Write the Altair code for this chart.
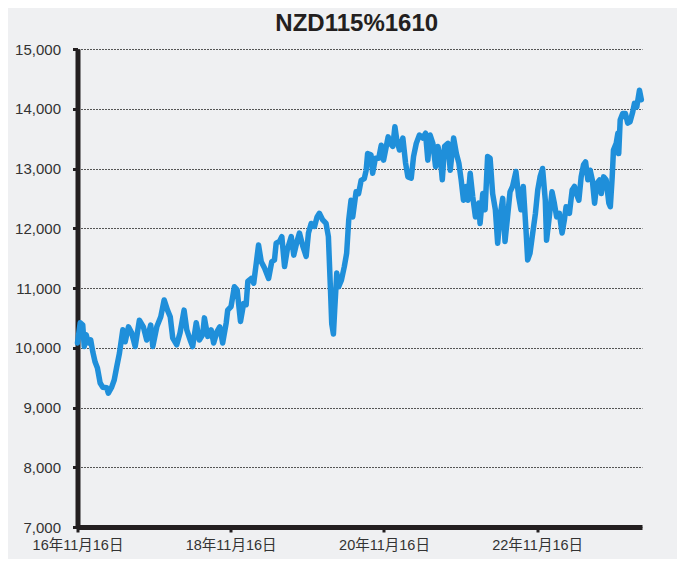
import altair as alt
import pandas as pd

dates = [
    "2016-11-16", "2016-11-29", "2016-12-11", "2016-12-18", "2016-12-27", "2017-01-07",
    "2017-01-18", "2017-01-28", "2017-02-08", "2017-02-19", "2017-03-04", "2017-03-16",
    "2017-04-04", "2017-04-12", "2017-04-28", "2017-05-10", "2017-05-22", "2017-06-04",
    "2017-06-20", "2017-07-01", "2017-07-17", "2017-08-01", "2017-08-18", "2017-09-07",
    "2017-09-26", "2017-10-12", "2017-10-31", "2017-11-10", "2017-11-29", "2017-12-18",
    "2018-01-03", "2018-01-19", "2018-02-01", "2018-02-13", "2018-03-04", "2018-03-20",
    "2018-04-08", "2018-04-21", "2018-05-07", "2018-05-19", "2018-06-05", "2018-06-20",
    "2018-07-06", "2018-07-14", "2018-07-30", "2018-08-15", "2018-08-27", "2018-09-12",
    "2018-09-25", "2018-10-09", "2018-10-26", "2018-11-02", "2018-11-18", "2018-12-04",
    "2018-12-17", "2019-01-02", "2019-01-17", "2019-01-29", "2019-02-06", "2019-02-22",
    "2019-03-06", "2019-03-18", "2019-03-29", "2019-04-11", "2019-04-27", "2019-05-16",
    "2019-05-31", "2019-06-13", "2019-06-21", "2019-07-07", "2019-07-18", "2019-07-31",
    "2019-08-13", "2019-09-01", "2019-09-13", "2019-09-30", "2019-10-10", "2019-10-26",
    "2019-11-11", "2019-11-22", "2019-12-05", "2019-12-21", "2020-01-02", "2020-01-13",
    "2020-01-29", "2020-02-14", "2020-02-25", "2020-03-06", "2020-03-12", "2020-03-20",
    "2020-03-26", "2020-04-05", "2020-04-14", "2020-04-27", "2020-05-11", "2020-05-22",
    "2020-06-01", "2020-06-12", "2020-06-20", "2020-07-06", "2020-07-18", "2020-07-30",
    "2020-08-14", "2020-08-23", "2020-08-30", "2020-09-15", "2020-09-23", "2020-10-06",
    "2020-10-22", "2020-11-03", "2020-11-14", "2020-11-27", "2020-12-06", "2020-12-16",
    "2020-12-28", "2021-01-07", "2021-01-16", "2021-01-29", "2021-02-14", "2021-02-27",
    "2021-03-10", "2021-03-26", "2021-04-06", "2021-04-19", "2021-05-04", "2021-05-20",
    "2021-06-02", "2021-06-13", "2021-06-24", "2021-07-07", "2021-07-20", "2021-07-31",
    "2021-08-11", "2021-08-21", "2021-09-01", "2021-09-17", "2021-09-28", "2021-10-14",
    "2021-10-27", "2021-11-08", "2021-11-19", "2021-11-30", "2021-12-13", "2021-12-21",
    "2022-01-01", "2022-01-13", "2022-01-26", "2022-02-11", "2022-02-17", "2022-03-02",
    "2022-03-13", "2022-03-25", "2022-04-06", "2022-04-18", "2022-05-01", "2022-05-12",
    "2022-05-23", "2022-06-05", "2022-06-16", "2022-06-28", "2022-07-10", "2022-07-22",
    "2022-08-07", "2022-08-20", "2022-08-31", "2022-09-11", "2022-09-24", "2022-10-02",
    "2022-10-13", "2022-10-26", "2022-11-08", "2022-11-19", "2022-11-30", "2022-12-12",
    "2022-12-25", "2022-12-31", "2023-01-13", "2023-01-26", "2023-02-06", "2023-02-17",
    "2023-03-02", "2023-03-15", "2023-03-26", "2023-04-03", "2023-04-19", "2023-05-02",
    "2023-05-13", "2023-05-24", "2023-06-03", "2023-06-14", "2023-06-25", "2023-07-05",
    "2023-07-16", "2023-07-27", "2023-08-06", "2023-08-17", "2023-08-28", "2023-09-10",
    "2023-09-18", "2023-09-29", "2023-10-11", "2023-10-24", "2023-10-31", "2023-11-09",
    "2023-11-15", "2023-11-28", "2023-12-06", "2023-12-10", "2023-12-17", "2023-12-29",
    "2024-01-11", "2024-01-22", "2024-02-02", "2024-02-15", "2024-02-23", "2024-03-05",
    "2024-03-18", "2024-03-27",
]

values = [
    10080, 10420, 10380, 10020, 10220, 10080,
    10130, 9930, 9760, 9660, 9410, 9340,
    9330, 9240, 9340, 9460, 9680, 9910,
    10300, 10100, 10350, 10250, 10020, 10460,
    10350, 10130, 10380, 10020, 10350, 10520,
    10800, 10630, 10520, 10160, 10050, 10250,
    10630, 10300, 10130, 10020, 10420, 10130,
    10220, 10500, 10190, 10300, 10080, 10270,
    10350, 10080, 10420, 10630, 10690, 11020,
    10970, 10440, 10740, 10720, 11110, 11160,
    11080, 11410, 11720, 11440, 11330, 11160,
    11440, 11470, 11750, 11780, 11860, 11360,
    11640, 11860, 11550, 11800, 11920, 11700,
    11530, 11920, 12080, 12030, 12190, 12250,
    12140, 12080, 11860, 10970, 10400, 10230,
    10630, 11250, 11020, 11130, 11360, 11580,
    12140, 12470, 12190, 12610, 12580, 12800,
    12830, 12970, 13250, 13230, 12920, 13170,
    13170, 13390, 13140, 13370, 13530, 13420,
    13370, 13700, 13480, 13310, 13510, 13090,
    12860, 12840, 13200, 13420, 13560, 13510,
    13590, 13140, 13560, 13420, 13030, 13370,
    13200, 12810, 13370, 13420, 12970, 13510,
    13250, 13090, 12810, 12470, 12700, 12470,
    12920, 12530, 12190, 12420, 12080, 12580,
    12310, 13200, 13170, 12580, 12310, 11750,
    12190, 12500, 11780, 12190, 12610, 12700,
    12950, 12530, 12310, 12700, 11970, 11470,
    11580, 11920, 12250, 12640, 12860, 13000,
    12470, 11800, 12190, 12610, 12420, 12190,
    12250, 11920, 12140, 12360, 12250, 12640,
    12700, 12560, 12470, 12860, 13060, 13110,
    12810, 12970, 12810, 12420, 12750, 12810,
    12580, 12860, 12810, 12420, 12360, 12860,
    13310, 13420, 13590, 13250, 13810, 13920,
    13920, 13760, 13780, 13950, 14090, 14030,
    14310, 14150,
]

title_text = "NZD115%1610"
y_ticks = [7000, 8000, 9000, 10000, 11000, 12000, 13000, 14000, 15000]
x_tick_dates = [(2016, 11, 16), (2018, 11, 16), (2020, 11, 16), (2022, 11, 16)]

df = pd.DataFrame({"date": dates, "value": values})

x_values = [alt.DateTime(year=y, month=m, date=d, utc=True) for (y, m, d) in x_tick_dates]

line = alt.Chart(df).mark_line(
    color="#1f8fda", strokeWidth=5.5, strokeJoin="round", strokeCap="round"
).encode(
    x=alt.X(
        "date:T",
        scale=alt.Scale(
            type="utc",
            domain=[
                alt.DateTime(year=2016, month=11, date=16, utc=True),
                alt.DateTime(year=2024, month=3, date=30, utc=True),
            ],
        ),
        axis=alt.Axis(
            values=x_values,
            labelExpr="utcFormat(datum.value, '%y年%m月%d日')",
            title=None,
            grid=False,
            domainColor="#231f20",
            domainWidth=5,
            tickColor="#231f20",
            tickWidth=3,
            tickSize=5,
            labelPadding=6,
            labelFont="Liberation Sans, Noto Sans CJK JP",
            labelFontSize=14.5,
            labelColor="#333333",
            labelAlign="center",
            labelFlush=False,
        ),
    ),
    y=alt.Y(
        "value:Q",
        scale=alt.Scale(domain=[7000, 15000], nice=False, zero=False),
        axis=alt.Axis(
            values=y_ticks,
            format=",d",
            title=None,
            grid=True,
            gridColor="#555555",
            gridDash=[2, 1],
            gridWidth=1,
            domainColor="#231f20",
            domainWidth=5,
            tickColor="#231f20",
            tickWidth=3,
            tickSize=5,
            labelPadding=12,
            labelFont="Liberation Sans",
            labelFontSize=15,
            labelColor="#333333",
        ),
    ),
)

chart = line.properties(
    width=564.5,
    height=478,
    title=alt.TitleParams(
        text=title_text,
        font="Liberation Sans",
        fontSize=24,
        fontWeight="bold",
        color="#231f20",
        anchor="middle",
        offset=6,
        dx=-3,
    ),
    autosize=alt.AutoSizeParams(type="none"),
    padding={"left": 69.5, "top": 41, "right": 35, "bottom": 32},
    background="#eff0f2",
).configure_view(stroke=None)

chart.save("out.html", embed_options={"renderer": "svg", "actions": False})
